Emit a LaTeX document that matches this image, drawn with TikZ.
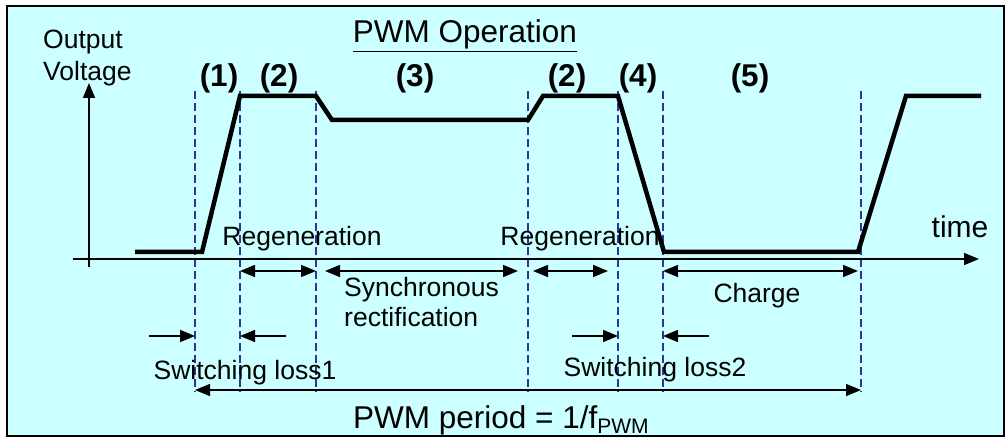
\documentclass[tikz,border=0pt]{standalone}
\usepackage{fontspec}
\setmainfont{Liberation Sans}
\usetikzlibrary{arrows.meta}

\definecolor{panelcyan}{HTML}{CCFFFF}
\definecolor{guideblue}{HTML}{333399}

\tikzset{
  wave/.style={line width=4.5pt, line join=miter},
  guide/.style={guideblue, line width=1.3pt, dash pattern=on 8pt off 4pt},
  axis/.style={line width=1.5pt, -{Triangle[length=15pt,width=12pt]}},
  span/.style={line width=1.5pt, {Triangle[length=15pt,width=12pt]}-{Triangle[length=15pt,width=12pt]}},
  pointer/.style={line width=1.5pt, -{Triangle[length=15pt,width=12pt]}},
  txt/.style={inner sep=0pt, font=\fontsize{26.5}{31}\selectfont},
  bigtxt/.style={inner sep=0pt, font=\fontsize{31.5}{36}\selectfont},
  phase/.style={inner sep=0pt, font=\fontsize{31.5}{36}\selectfont\bfseries},
}

\begin{document}
\begin{tikzpicture}[x=1pt,y=-1pt]
                    \useasboundingbox (0,0) rectangle (1005,438);
                    \fill[panelcyan] (7,6) rectangle (1004,436);

                    % axes
                    \coordinate (Xs) at (73,259);
                    \coordinate (Xe) at (979,259);
                    \coordinate (Ys) at (89,267);
                    \coordinate (Ye) at (89,83);

                    % dashed guides
                    \coordinate (Ta) at (195,91);  \coordinate (Ba) at (195,392);
                    \coordinate (Tb) at (240,91);  \coordinate (Bb) at (240,392);
                    \coordinate (Tc) at (316,91);  \coordinate (Bc) at (316,392);
                    \coordinate (Td) at (528,91);  \coordinate (Bd) at (528,392);
                    \coordinate (Te) at (618,91);  \coordinate (Be) at (618,392);
                    \coordinate (Tf) at (663,91);  \coordinate (Bf) at (663,392);
                    \coordinate (Tg) at (861,91);  \coordinate (Bg) at (861,392);

                    \draw[guide] (Ta) -- (Ba);
                    \draw[guide] (Tb) -- (Bb);
                    \draw[guide] (Tc) -- (Bc);
                    \draw[guide] (Td) -- (Bd);
                    \draw[guide] (Te) -- (Be);
                    \draw[guide] (Tf) -- (Bf);
                    \draw[guide] (Tg) -- (Bg);

                    \draw[axis] (Xs) -- (Xe);
                    \draw[axis] (Ys) -- (Ye);

                    % output voltage
                    \coordinate (W0) at (135,252);
                    \coordinate (W1) at (202,252);
                    \coordinate (W2) at (240,96);
                    \coordinate (W3) at (316,96);
                    \coordinate (W4) at (332,120);
                    \coordinate (W5) at (528,120);
                    \coordinate (W6) at (543,96);
                    \coordinate (W7) at (618,96);
                    \coordinate (W8) at (664,252);
                    \coordinate (W9) at (858,252);
                    \coordinate (W10) at (906,96);
                    \coordinate (W11) at (981,96);

                    \draw[wave] (W0) -- (W1) -- (W2) -- (W3) -- (W4) -- (W5) -- (W6)
                                -- (W7) -- (W8) -- (W9) -- (W10) -- (W11);

                    % intervals
                    \coordinate (RegAl) at (240,271);  \coordinate (RegAr) at (316,271);
                    \coordinate (SynL) at (325,271);   \coordinate (SynR) at (518,271);
                    \coordinate (RegBl) at (533,271);  \coordinate (RegBr) at (608,271);
                    \coordinate (ChgL) at (663,271);   \coordinate (ChgR) at (858,271);
                    \coordinate (PerL) at (195,390);   \coordinate (PerR) at (861,390);

                    \draw[span] (RegAl) -- (RegAr);
                    \draw[span] (SynL) -- (SynR);
                    \draw[span] (RegBl) -- (RegBr);
                    \draw[span] (ChgL) -- (ChgR);
                    \draw[span] (PerL) -- (PerR);

                    \coordinate (SwAa) at (149,336);  \coordinate (SwAb) at (195,336);
                    \coordinate (SwAc) at (286,336);  \coordinate (SwAd) at (240,336);
                    \coordinate (SwBa) at (572,336);  \coordinate (SwBb) at (618,336);
                    \coordinate (SwBc) at (709,336);  \coordinate (SwBd) at (663,336);

                    \draw[pointer] (SwAa) -- (SwAb);
                    \draw[pointer] (SwAc) -- (SwAd);
                    \draw[pointer] (SwBa) -- (SwBb);
                    \draw[pointer] (SwBc) -- (SwBd);

                    % texts
                    \node[bigtxt, anchor=base] (title) at (465,43) {\underline{PWM Operation}};
                    \node[txt, anchor=base west] (outA) at (43,49) {Output};
                    \node[txt, anchor=base west] (outB) at (43,81) {Voltage};

                    \node[phase, anchor=base] (ph1) at (219,87) {(1)};
                    \node[phase, anchor=base] (ph2) at (279,87) {(2)};
                    \node[phase, anchor=base] (ph3) at (415,87) {(3)};
                    \node[phase, anchor=base] (ph2b) at (567,87) {(2)};
                    \node[phase, anchor=base] (ph4) at (638,87) {(4)};
                    \node[phase, anchor=base] (ph5) at (750,87) {(5)};

                    \node[txt, anchor=base] (regA) at (302,246) {Regeneration};
                    \node[txt, anchor=base] (regB) at (580,246) {Regeneration};
                    \node[txt, font=\fontsize{30}{34}\selectfont, anchor=base] (time) at (960,238) {time};
                    \node[txt, anchor=base west] (synA) at (344,297) {Synchronous};
                    \node[txt, anchor=base west] (synB) at (344,327) {rectification};
                    \node[txt, anchor=base] (chg) at (757,303) {Charge};
                    \node[txt, anchor=base] (swA) at (245,380) {Switching loss1};
                    \node[txt, anchor=base] (swB) at (655,377) {Switching loss2};
                    \node[bigtxt, anchor=base west] (per) at (353,429)
                        {PWM period = 1/f\raisebox{-5pt}{\fontsize{21}{21}\selectfont PWM}};

                    \draw[line width=1.5pt] (7,6) rectangle (1004,436);
                \end{tikzpicture}
\end{document}
